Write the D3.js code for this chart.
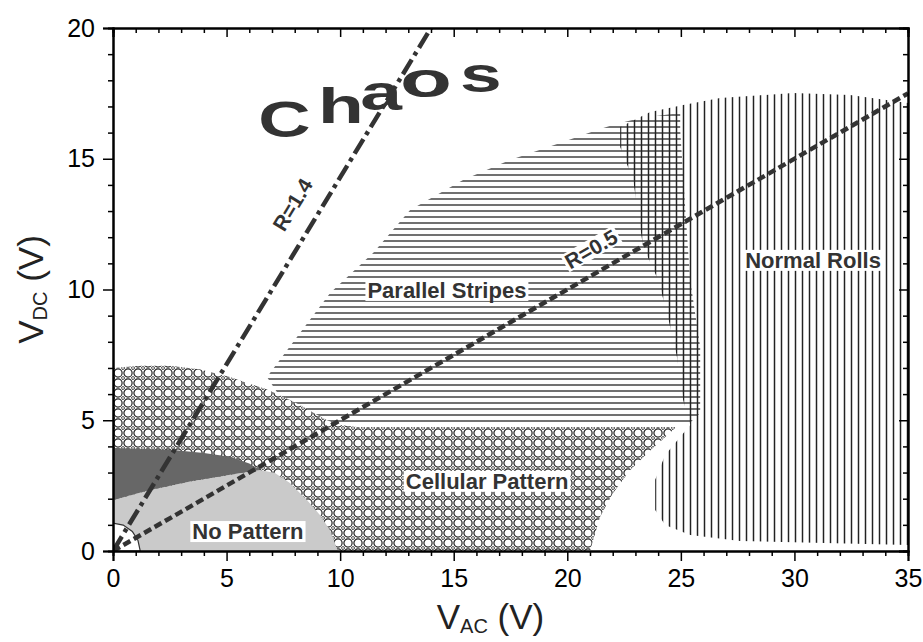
<!DOCTYPE html>
<html>
<head>
<meta charset="utf-8">
<script src="https://cdn.jsdelivr.net/npm/d3@7"></script>
<style>
  body { margin: 0; background: #fff; }
  svg { font-family: "Liberation Sans", Arial, sans-serif; }
</style>
</head>
<body>
<svg id="chart" width="923" height="642"></svg>
<script>
// region boundaries, [V_AC, V_DC]
var cellular = [[0,0],[0,7.0],[1.2,7.08],[2.5,7.08],[3.8,6.95],[5.15,6.65],[6.0,6.4],[6.7,6.2],[7.5,5.9],[8.23,5.58],[8.9,5.25],[9.42,5.0],[10.0,4.82],[10.74,4.74],[24.8,4.74],[23.6,3.8],[22.77,3.1],[22.0,2.2],[21.44,1.3],[21.0,0]];
var stripes = [[8.0,5.3],[7.2,6.1],[6.78,6.65],[8.23,8.34],[9.56,9.87],[11.45,11.4],[13.08,13.04],[15.41,14.19],[17.48,14.95],[19.68,15.6],[21.31,16.1],[22.0,16.29],[23.2,16.56],[24.97,16.75],[24.97,16.1],[25.2,13.0],[25.41,10.36],[25.85,7.8],[25.85,5.28],[25.3,4.82],[10.5,4.82],[9.0,5.0]];
var rolls = [[22.33,16.21],[23.65,16.79],[25.1,17.06],[26.73,17.32],[29.94,17.51],[32.45,17.44],[35,17.13],[35,0.23],[27.61,0.38],[25.41,0.61],[24.31,0.99],[23.87,1.57],[23.87,2.72],[24.31,3.67],[25.41,4.82],[25.1,5.77],[24.83,7.42],[24.39,9.1],[24.0,10.36],[23.34,11.63],[22.9,14.19],[22.33,15.45]];
var noPattern = [[0,0],[0,1.95],[1.63,2.33],[3.5,2.68],[6.47,3.1],[7.13,2.98],[7.79,2.6],[8.54,1.95],[9.11,1.38],[9.55,0.8],[9.9,0]];
var darkBand = [[0,1.95],[0,3.94],[2.64,3.86],[4.0,3.75],[5.15,3.6],[6.0,3.35],[6.47,3.1],[3.5,2.68],[1.63,2.33]];
var origin = [[0,0],[0,1.07],[0.45,0.99],[0.85,0.75],[1.1,0.4],[1.2,0]];

var lineR14 = [[0,0],[14,20]];
var lineR05 = [[0,0],[35,17.5]];

var regionLabels = ["Parallel Stripes","Cellular Pattern","Normal Rolls","No Pattern"];
var regionLabelPos = [[14.7,9.98],[16.47,2.68],[30.82,11.13],[5.94,0.76]];
var rLabels = ["R=1.4","R=0.5"];
var rLabelPos = [[7.9,13.25],[21.05,11.55]];
var chaosLetters = ["C","h","a","o","s"];
var chaosPos = [[6.39,15.83],[9.03,16.36],[10.88,16.86],[12.64,17.36],[15.28,17.55]];

var xMajor = [0,5,10,15,20,25,30,35];
var yMajor = [0,5,10,15,20];

var margin = { top: 28, right: 15, bottom: 91, left: 113 },
  width = 923 - margin.left - margin.right,
  height = 642 - margin.top - margin.bottom;

var svg = d3.select("#chart")
  .append("g")
  .attr("transform", "translate(" + margin.left + "," + margin.top + ")");

var x = d3.scaleLinear().domain([0, 35]).range([0, width]);
var y = d3.scaleLinear().domain([0, 20]).range([height, 0]);

var defs = d3.select("#chart").append("defs");
defs.append("clipPath").attr("id", "plot")
  .append("rect").attr("width", width).attr("height", height);

// fill patterns
var ph = defs.append("pattern").attr("id", "hlines")
  .attr("patternUnits", "userSpaceOnUse").attr("width", 10).attr("height", 6);
ph.append("line").attr("x1", 0).attr("x2", 10).attr("y1", 3).attr("y2", 3)
  .attr("stroke", "#333").attr("stroke-width", 1.4);

var pv = defs.append("pattern").attr("id", "vlines")
  .attr("patternUnits", "userSpaceOnUse").attr("width", 7).attr("height", 10);
pv.append("line").attr("x1", 3.5).attr("x2", 3.5).attr("y1", 0).attr("y2", 10)
  .attr("stroke", "#222").attr("stroke-width", 1.5);

var pc = defs.append("pattern").attr("id", "cells")
  .attr("patternUnits", "userSpaceOnUse").attr("width", 10).attr("height", 10);
pc.append("rect").attr("width", 10).attr("height", 10).attr("fill", "#fff");
pc.append("circle").attr("cx", 5).attr("cy", 5).attr("r", 4.1)
  .attr("fill", "none").attr("stroke", "#222").attr("stroke-width", 1.2);
[[0,0],[10,0],[0,10],[10,10]].forEach(function (c) {
  pc.append("path")
    .attr("d", "M" + (c[0] - 1.7) + "," + c[1] + "L" + c[0] + "," + (c[1] - 1.7) + "L" + (c[0] + 1.7) + "," + c[1] + "L" + c[0] + "," + (c[1] + 1.7) + "Z")
    .attr("fill", "#fff").attr("stroke", "#222").attr("stroke-width", 1);
});

var area = d3.line()
  .x(function (d) { return x(d[0]); })
  .y(function (d) { return y(d[1]); })
  .curve(d3.curveLinearClosed);
var line = d3.line()
  .x(function (d) { return x(d[0]); })
  .y(function (d) { return y(d[1]); });

var plot = svg.append("g").attr("clip-path", "url(#plot)");

plot.append("path").attr("d", area(stripes)).attr("fill", "url(#hlines)");
plot.append("path").attr("d", area(rolls)).attr("fill", "url(#vlines)");
plot.append("path").attr("d", area(cellular)).attr("fill", "url(#cells)");
plot.append("path").attr("d", area(noPattern)).attr("fill", "#cacaca");
plot.append("path").attr("d", area(darkBand)).attr("fill", "#676767");
plot.append("path").attr("d", area(origin)).attr("fill", "#fff")
  .attr("stroke", "#333").attr("stroke-width", 1.2);

// R lines
plot.append("path").attr("d", line(lineR14))
  .attr("fill", "none").attr("stroke", "#333").attr("stroke-width", 4.5)
  .style("stroke-dasharray", "17,5,4,5");
plot.append("path").attr("d", line(lineR05))
  .attr("fill", "none").attr("stroke", "#333").attr("stroke-width", 4.5)
  .style("stroke-dasharray", "8,4");

// labels with white knockout
function boxedLabel(g, txt, px, py, angle, size) {
  var t = g.append("g")
    .attr("transform", "translate(" + px + "," + py + ")rotate(" + angle + ")");
  var rect = t.append("rect").attr("fill", "#fff");
  var tx = t.append("text")
    .attr("text-anchor", "middle")
    .attr("dy", "0.36em")
    .style("font-size", size + "px")
    .style("font-weight", "bold")
    .style("fill", "#333")
    .text(txt);
  var b = tx.node().getBBox();
  rect.attr("x", b.x - 2).attr("y", b.y + 2).attr("width", b.width + 4).attr("height", b.height - 4);
}

regionLabels.forEach(function (s, i) {
  boxedLabel(plot, s, x(regionLabelPos[i][0]), y(regionLabelPos[i][1]), 0, 22);
});
boxedLabel(plot, rLabels[0], x(rLabelPos[0][0]), y(rLabelPos[0][1]), -58.7, 21);
boxedLabel(plot, rLabels[1], x(rLabelPos[1][0]), y(rLabelPos[1][1]), -29.9, 21);

var chaosStretch = [1.45, 1.5, 1.5, 1.7, 1.5];
chaosLetters.forEach(function (c, i) {
  plot.append("text")
    .attr("transform", "translate(" + x(chaosPos[i][0]) + "," + y(chaosPos[i][1]) + ")scale(" + chaosStretch[i] + ",1)")
    .style("font-size", "50px")
    .style("font-weight", "bold")
    .style("fill", "#333")
    .text(c);
});

// axes
var xMinor = d3.range(0, 36).filter(function (v) { return xMajor.indexOf(v) < 0; });
var yMinor = d3.range(0, 21).filter(function (v) { return yMajor.indexOf(v) < 0; });

function styleAxis(g) {
  g.select(".domain").attr("stroke", "#000").attr("stroke-width", 2);
  g.selectAll(".tick line").attr("stroke", "#000").attr("stroke-width", 1.5);
  g.selectAll("text").style("font-size", "25px").style("fill", "#000")
    .style("font-family", "'Liberation Sans', Arial, sans-serif");
}

svg.append("g").attr("transform", "translate(0," + height + ")")
  .call(d3.axisBottom(x).tickValues(xMinor).tickSize(5).tickFormat(""))
  .call(styleAxis);
svg.append("g").attr("transform", "translate(0," + height + ")")
  .call(d3.axisBottom(x).tickValues(xMajor).tickSize(10).tickPadding(8).tickFormat(d3.format("d")))
  .call(styleAxis);
svg.append("g")
  .call(d3.axisTop(x).tickValues(xMinor).tickSize(-5).tickFormat(""))
  .call(styleAxis);
svg.append("g")
  .call(d3.axisTop(x).tickValues(xMajor).tickSize(-9).tickFormat(""))
  .call(styleAxis);

svg.append("g")
  .call(d3.axisLeft(y).tickValues(yMinor).tickSize(5).tickFormat(""))
  .call(styleAxis);
svg.append("g")
  .call(d3.axisLeft(y).tickValues(yMajor).tickSize(10).tickPadding(8).tickFormat(d3.format("d")))
  .call(styleAxis);
svg.append("g").attr("transform", "translate(" + width + ",0)")
  .call(d3.axisRight(y).tickValues(yMinor).tickSize(-5).tickFormat(""))
  .call(styleAxis);
svg.append("g").attr("transform", "translate(" + width + ",0)")
  .call(d3.axisRight(y).tickValues(yMajor).tickSize(-9).tickFormat(""))
  .call(styleAxis);

// axis titles
var xt = svg.append("text")
  .attr("x", width / 2 - 20).attr("y", height + 78)
  .attr("text-anchor", "middle")
  .style("font-size", "35px").style("fill", "#222");
xt.append("tspan").text("V");
xt.append("tspan").attr("dy", 4).style("font-size", "20px").text("AC");
xt.append("tspan").attr("dy", -4).text(" (V)");

var yt = svg.append("text")
  .attr("transform", "translate(" + (-70) + "," + (height / 2) + ")rotate(-90)")
  .attr("text-anchor", "middle")
  .style("font-size", "35px").style("fill", "#222");
yt.append("tspan").text("V");
yt.append("tspan").attr("dy", 4).style("font-size", "20px").text("DC");
yt.append("tspan").attr("dy", -4).text(" (V)");
</script>
</body>
</html>
